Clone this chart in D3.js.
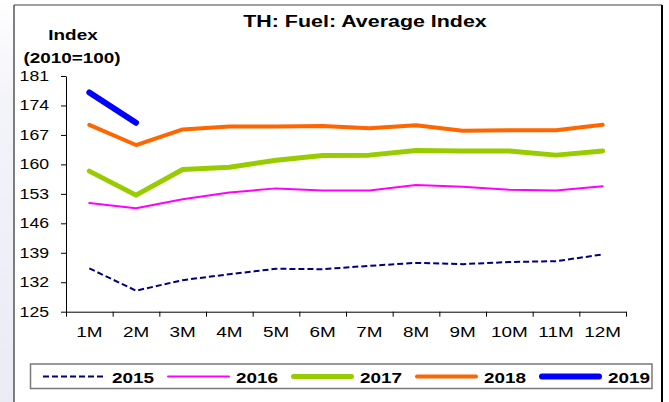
<!DOCTYPE html>
<html>
<head>
<meta charset="utf-8">
<script src="https://cdn.jsdelivr.net/npm/d3@7"></script>
<style>
  body { margin: 0; background: #fff; }
  text { font-family: "Liberation Sans", Arial, sans-serif; fill: #000; }
</style>
</head>
<body>
<div id="chart"></div>
<script>
// months on the x axis
const months = ["1M","2M","3M","4M","5M","6M","7M","8M","9M","10M","11M","12M"];
// y tick labels
const yTicks = [125, 132, 139, 146, 153, 160, 167, 174, 181];

// index values
const years = ["2015", "2016", "2017", "2018", "2019"];
const v2015 = [135.3, 130.0, 132.5, 133.9, 135.2, 135.1, 135.9, 136.6, 136.3, 136.8, 137.0, 138.6];
const v2016 = [150.8, 149.6, 151.7, 153.3, 154.3, 153.8, 153.8, 155.1, 154.7, 154.0, 153.8, 154.8];
const v2017 = [158.4, 152.7, 158.8, 159.3, 161.0, 162.1, 162.2, 163.3, 163.2, 163.2, 162.2, 163.2];
const v2018 = [169.4, 164.6, 168.3, 169.0, 169.0, 169.1, 168.6, 169.3, 168.0, 168.1, 168.1, 169.4];
const v2019 = [177.1, 169.9];

const series = [
  {name: years[0], values: v2015, color: "#000080", width: 2, dash: "6,3"},
  {name: years[1], values: v2016, color: "#ff00ff", width: 2, dash: null},
  {name: years[2], values: v2017, color: "#99cc00", width: 5, dash: null},
  {name: years[3], values: v2018, color: "#ff6600", width: 4, dash: null},
  {name: years[4], values: v2019, color: "#0000ff", width: 6, dash: null}
];

const W = 669, H = 402;
const stretch = 1.26; // the source text is drawn wider than normal

const svg = d3.select("#chart").append("svg")
  .attr("width", W)
  .attr("height", H);

// lavender slide strip on the left
const grad = svg.append("defs").append("linearGradient")
  .attr("id", "lav").attr("x1", 0).attr("y1", 0).attr("x2", 0).attr("y2", 1);
grad.append("stop").attr("offset", "0%").attr("stop-color", "#ffffff");
grad.append("stop").attr("offset", "25%").attr("stop-color", "#f3f3fa");
grad.append("stop").attr("offset", "100%").attr("stop-color", "#ebebf6");
svg.append("rect").attr("x", 0).attr("y", 0).attr("width", 14).attr("height", H)
  .attr("fill", "url(#lav)");

// chart frame
svg.append("line").attr("x1", 14).attr("x2", 662).attr("y1", 5).attr("y2", 5)
  .attr("stroke", "#808080").attr("stroke-width", 1.5);
svg.append("line").attr("x1", 14).attr("x2", 14).attr("y1", 5).attr("y2", H)
  .attr("stroke", "#555").attr("stroke-width", 1.5);
svg.append("line").attr("x1", 662).attr("x2", 662).attr("y1", 5).attr("y2", H)
  .attr("stroke", "#000").attr("stroke-width", 2);

// scales
const x = d3.scaleBand().domain(months).range([66, 626]).padding(0);
const xEdges = d3.scaleLinear().domain([0, months.length]).range([66, 626]);
const y = d3.scaleLinear().domain([125, 181]).range([311.7, 76]);

// title and y label
function wideText(sel, tx, ty, str, size, weight, anchor) {
  return sel.append("text")
    .attr("transform", "translate(" + tx + "," + ty + ") scale(" + stretch + ",1)")
    .attr("text-anchor", anchor || "middle")
    .style("font-size", size + "px")
    .style("font-weight", weight || "normal")
    .text(str);
}
wideText(svg, 365, 27, "TH: Fuel: Average Index", 17, "bold");
wideText(svg, 73, 40, "Index", 15, "bold");
wideText(svg, 72, 63, "(2010=100)", 15, "bold");

// y axis
const yAxis = svg.append("g")
  .attr("transform", "translate(66,0)")
  .call(d3.axisLeft(y).tickValues(yTicks).tickSize(5).tickSizeOuter(0).tickFormat(d3.format("d")));
yAxis.select(".domain").attr("stroke", "#000");
yAxis.selectAll("text")
  .attr("x", -17 / stretch)
  .attr("transform", "scale(" + stretch + ",1)")
  .style("font-size", "14px")
  .style("font-family", "'Liberation Sans', Arial, sans-serif")
  .attr("fill", "#000");

// x axis: ticks at category edges, labels at centres
const xTickAxis = svg.append("g")
  .attr("transform", "translate(0,311.7)")
  .call(d3.axisBottom(xEdges).tickValues(d3.range(0, months.length + 1)).tickSize(5).tickSizeOuter(0).tickFormat(""));
xTickAxis.select(".domain").attr("stroke", "#000");

const xLabelAxis = svg.append("g")
  .attr("transform", "translate(0,311.7)")
  .call(d3.axisBottom(x).tickSize(0).tickPadding(15));
xLabelAxis.select(".domain").remove();
xLabelAxis.selectAll("text")
  .attr("transform", "scale(" + stretch + ",1)")
  .style("font-size", "15px")
  .style("font-family", "'Liberation Sans', Arial, sans-serif")
  .attr("fill", "#000");

// lines
const line = d3.line()
  .x((d, i) => x(months[i]) + x.bandwidth() / 2)
  .y(d => y(d));

svg.selectAll(".series")
  .data(series)
  .enter().append("path")
    .attr("class", "series")
    .attr("d", d => line(d.values))
    .attr("fill", "none")
    .attr("stroke", d => d.color)
    .attr("stroke-width", d => d.width)
    .attr("stroke-dasharray", d => d.dash)
    .attr("stroke-linejoin", "round")
    .attr("stroke-linecap", d => d.dash ? "butt" : "round");

// legend
svg.append("rect")
  .attr("x", 30.5).attr("y", 364).attr("width", 621.5).attr("height", 24.5)
  .attr("fill", "#fff").attr("stroke", "#7a7a7a").attr("stroke-width", 1.5);

const legend = svg.selectAll(".legend")
  .data(series)
  .enter().append("g")
    .attr("class", "legend")
    .attr("transform", (d, i) => "translate(" + (43 + i * 124) + ",376.5)");

legend.append("line")
  .attr("x1", d => d.dash ? 0 : d.width / 2)
  .attr("x2", d => d.dash ? 63 : 63 - d.width / 2)
  .attr("y1", 0).attr("y2", 0)
  .attr("stroke", d => d.color)
  .attr("stroke-width", d => d.width)
  .attr("stroke-dasharray", d => d.dash)
  .attr("stroke-linecap", d => d.dash ? "butt" : "round");

legend.each(function(d) {
  wideText(d3.select(this), 69, 6, d.name, 15, "bold", "start");
});
</script>
</body>
</html>
